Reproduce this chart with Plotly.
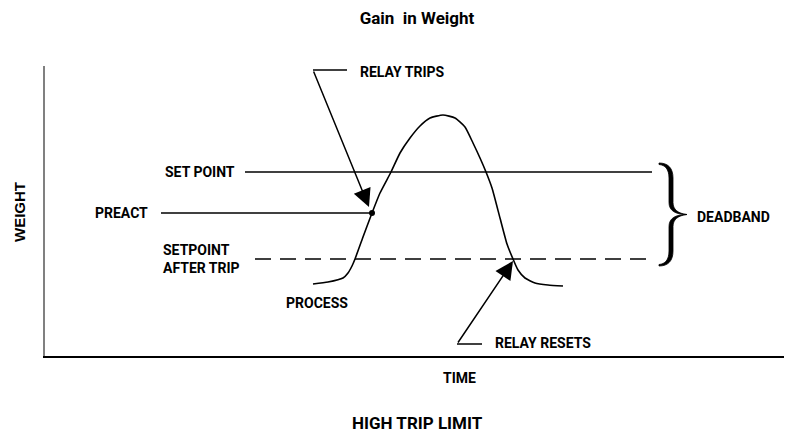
import plotly.graph_objects as go

# ---- data (time / weight units; 1 unit ~ 1 px of the reference) ----
process_time = [268, 283, 298, 303, 307, 310, 318, 327, 335, 346, 355, 365, 375, 385,
                398, 410, 420, 428, 435, 441, 447, 455, 462, 468, 473, 480, 490, 503, 518]
process_weight = [72, 74, 78, 83, 90, 97, 119, 143, 163, 184, 203, 218, 230, 238,
                  241, 238, 229, 213, 198, 184, 168, 138, 112, 97, 86, 78, 73, 71, 70]

set_point = 184
preact = 143
setpoint_after_trip = 97

set_point_span = [200, 607]
preact_span = [116, 327]
after_trip_span = [210, 607]

trip_time = 327          # relay trips (preact crossing)
reset_time = 468         # relay resets (after-trip crossing)

FONT = "Roboto, Liberation Sans, Arial, sans-serif"
FONT_WIDE = "Liberation Sans, Arial, sans-serif"
LBL = dict(family=FONT, size=14, color="black", weight="bold")
BIG = dict(family=FONT, size=17, color="black", weight="bold")

# page offset compensation (browser body margin)
OFF = 8

fig = go.Figure()

# process curve
fig.add_trace(go.Scatter(x=process_time, y=process_weight, mode="lines",
                         line=dict(color="black", width=1.6, shape="spline", smoothing=0.5),
                         hoverinfo="skip"))
# set point
fig.add_trace(go.Scatter(x=set_point_span, y=[set_point] * 2, mode="lines",
                         line=dict(color="black", width=1.5), hoverinfo="skip"))
# preact
fig.add_trace(go.Scatter(x=preact_span, y=[preact] * 2, mode="lines",
                         line=dict(color="black", width=1.5), hoverinfo="skip"))
# setpoint after trip (dashed)
fig.add_trace(go.Scatter(x=after_trip_span, y=[setpoint_after_trip] * 2, mode="lines",
                         line=dict(color="black", width=1.5, dash="16px,9px"), hoverinfo="skip"))
# preact dot
fig.add_trace(go.Scatter(x=[trip_time], y=[preact], mode="markers",
                         marker=dict(color="black", size=6), hoverinfo="skip"))

# leader lines for callouts
trip_leader_x = [302, 268]
trip_leader_y = [286, 286]
reset_leader_x = [437, 412]
reset_leader_y = [12, 12]
fig.add_trace(go.Scatter(x=trip_leader_x, y=trip_leader_y, mode="lines",
                         line=dict(color="black", width=1.5), hoverinfo="skip"))
fig.add_trace(go.Scatter(x=reset_leader_x, y=reset_leader_y, mode="lines",
                         line=dict(color="black", width=1.5), hoverinfo="skip"))

# arrows
fig.add_annotation(x=trip_time - 3, y=preact + 6, ax=trip_leader_x[1], ay=trip_leader_y[1],
                   axref="x", ayref="y", xref="x", yref="y", text="", showarrow=True,
                   arrowhead=2, arrowsize=2.4, arrowwidth=1.5, arrowcolor="black", standoff=0)
fig.add_annotation(x=reset_time, y=setpoint_after_trip - 2, ax=reset_leader_x[1], ay=reset_leader_y[1],
                   axref="x", ayref="y", xref="x", yref="y", text="", showarrow=True,
                   arrowhead=2, arrowsize=2.4, arrowwidth=1.5, arrowcolor="black", standoff=0)

# deadband brace
def brace(L, A, T, ytop, ybot, th=4):
    ymid = (ytop + ybot) / 2
    I = A - th
    return (f"M {L},{ytop} C {L+9},{ytop} {A},{ytop-5} {A},{ytop-15} "
            f"L {A},{ymid+12} C {A},{ymid+5} {A+5},{ymid+1} {T},{ymid} "
            f"C {A+5},{ymid-1} {A},{ymid-5} {A},{ymid-12} "
            f"L {A},{ybot+15} C {A},{ybot+5} {L+9},{ybot} {L},{ybot} "
            f"L {L},{ybot+1.5} C {L+6},{ybot+2} {I},{ybot+6} {I},{ybot+15} "
            f"L {I},{ymid-12} C {I},{ymid-4} {A+2},{ymid} {T},{ymid} "
            f"C {A+2},{ymid} {I},{ymid+4} {I},{ymid+12} "
            f"L {I},{ytop-15} C {I},{ytop-6} {L+6},{ytop-2} {L},{ytop-1.5} Z")

fig.add_shape(type="path", xref="x", yref="y",
              path=brace(614, 628, 642, set_point + 9, setpoint_after_trip - 7),
              fillcolor="black", line=dict(color="black", width=0.8))

# labels
labels = [
    ("RELAY TRIPS", 313, 284, "left"),
    ("SET POINT", 155, set_point, "center"),
    ("PREACT", 105, preact, "right"),
    ("SETPOINT<br>AFTER TRIP", 116, setpoint_after_trip, "left"),
    ("PROCESS", 272, 53, "center"),
    ("DEADBAND", 650, 139, "left"),
    ("RELAY RESETS", 448, 13, "left"),
]
for txt, x, y, anc in labels:
    fig.add_annotation(x=x, y=y, xref="x", yref="y", text=txt, showarrow=False,
                       xanchor=anc, yanchor="middle", align="left", font=LBL)

# axis titles / bottom title
fig.add_annotation(x=(19 - 45) / 747, y=(356 - 212) / 290, xref="paper", yref="paper", text="WEIGHT",
                   textangle=-90, showarrow=False, xanchor="center", yanchor="middle",
                   font=dict(family=FONT_WIDE, size=15, color="black", weight="bold"))
fig.add_annotation(x=(478 - 45) / 747, y=(356 - 378) / 290, xref="paper", yref="paper", text="TIME",
                   showarrow=False, xanchor="right", yanchor="middle", font=LBL)
fig.add_annotation(x=(417 - 45) / 747, y=(356 - 423) / 290, xref="paper", yref="paper",
                   text="HIGH TRIP LIMIT", showarrow=False, xanchor="center", yanchor="middle",
                   font=BIG)

W, H = 792 - OFF, 433 - OFF
fig.update_layout(
    width=W, height=H,
    margin=dict(l=45 - OFF, r=0, t=66 - OFF, b=77),
    paper_bgcolor="white", plot_bgcolor="white",
    showlegend=False,
    title=dict(text="Gain\u00a0 in Weight", x=(417 - OFF) / W, xanchor="center",
               y=1 - (18 - OFF) / H, yanchor="middle", xref="container", yref="container",
               font=BIG),
    xaxis=dict(range=[0, 747], showgrid=False, zeroline=False, showticklabels=False,
               ticks="", showline=True, linecolor="black", linewidth=2, fixedrange=True),
    yaxis=dict(range=[0, 290], showgrid=False, zeroline=False, showticklabels=False,
               ticks="", showline=True, linecolor="#808080", linewidth=1.5, fixedrange=True),
)

fig.write_html("out.html")
